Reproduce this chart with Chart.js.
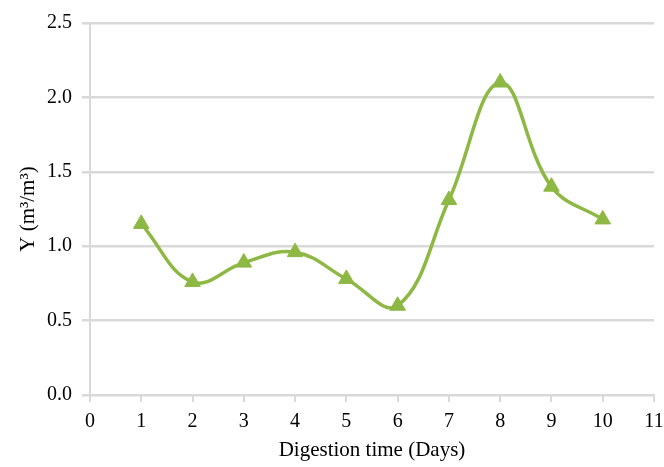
<!DOCTYPE html>
<html>
<head>
<meta charset="utf-8">
<script src="https://cdn.jsdelivr.net/npm/chart.js@4"></script>
<style>
  html, body { margin: 0; padding: 0; background: #fff; }
  #wrap { width: 664px; height: 467px; }
</style>
</head>
<body>
<div id="wrap"><canvas id="myChart" width="664" height="467"></canvas></div>
<script>
// digestion time (days) and yield
var days = [1, 2, 3, 4, 5, 6, 7, 8, 9, 10];
var yieldY = [1.15, 0.76, 0.89, 0.96, 0.78, 0.60, 1.31, 2.10, 1.40, 1.18];
var xTitle = "Digestion time (Days)";
var yTitle = "Y (m\u00b3/m\u00b3)";

var points = days.map(function (d, i) { return { x: d, y: yieldY[i] }; });

var green = "#8db843";
var gridGray = "#d9d9d9";
var tickFont = { family: "'Liberation Serif', 'Times New Roman', serif", size: 20 };
var titleFont = { family: "'Liberation Serif', 'Times New Roman', serif", size: 21 };

const ctx = document.getElementById('myChart');
var myChart = new Chart(ctx, {
  type: 'line',
  data: {
    datasets: [{
      label: 'Y',
      data: points,
      borderColor: green,
      backgroundColor: green,
      borderWidth: 3.5,
      tension: 0.4,
      fill: false,
      pointStyle: 'triangle',
      pointRadius: 9,
      pointBorderWidth: 1,
      pointBorderColor: green,
      pointBackgroundColor: green
    }]
  },
  options: {
    responsive: false,
    animation: false,
    layout: { padding: { top: 23, right: 0, left: 0, bottom: 0 } },
    plugins: {
      legend: { display: false },
      tooltip: { enabled: false }
    },
    scales: {
      x: {
        type: 'linear',
        min: 0,
        max: 11,
        ticks: { stepSize: 1, color: '#000', font: tickFont, padding: 8 },
        grid: { drawOnChartArea: false, drawTicks: true, tickLength: 7, color: gridGray, lineWidth: 2 },
        border: { color: gridGray, width: 2 },
        title: { display: true, text: xTitle, color: '#000', font: titleFont, padding: { top: 4, bottom: 4 } },
        afterFit: function (axis) { axis.height = 72; axis.paddingRight = 8; }
      },
      y: {
        min: 0,
        max: 2.5,
        ticks: {
          stepSize: 0.5,
          color: '#000',
          font: tickFont,
          padding: 10,
          callback: function (v) { return v.toFixed(1); }
        },
        grid: { color: gridGray, lineWidth: 2.5, tickLength: 8 },
        border: { color: gridGray, width: 2 },
        title: { display: true, text: yTitle, color: '#000', font: titleFont, padding: { top: 16, bottom: 0 } },
        afterFit: function (axis) { axis.width = 90; }
      }
    }
  }
});
</script>
</body>
</html>
